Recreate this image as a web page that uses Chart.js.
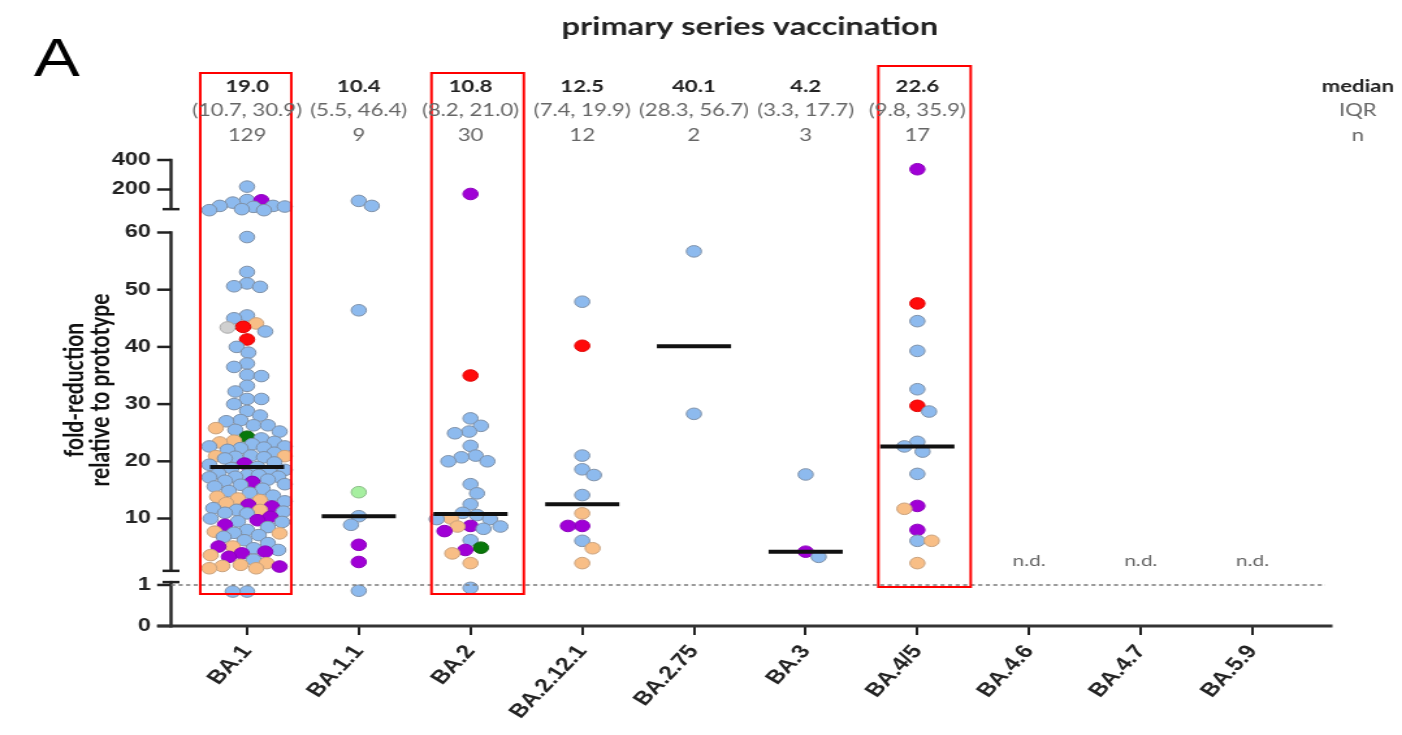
<!DOCTYPE html>
<html>
<head>
<meta charset="utf-8">
<title>primary series vaccination</title>
<script src="https://cdn.jsdelivr.net/npm/chart.js@4/dist/chart.umd.min.js"></script>
<style>
  html, body { margin: 0; padding: 0; background: #fff; overflow: hidden; }
  /* the figure is laid out on a narrower canvas and widened horizontally */
  #wrap { width: 1078px; height: 735px; transform: scaleX(1.3006); transform-origin: 0 0; }
</style>
</head>
<body>
<div id="wrap"><canvas id="chart" width="1078" height="735"></canvas></div>
<script>
// ---- categories and summary statistics ----
const CATEGORIES = ['BA.1', 'BA.1.1', 'BA.2', 'BA.2.12.1', 'BA.2.75', 'BA.3', 'BA.4/5', 'BA.4.6', 'BA.4.7', 'BA.5.9'];
const MEDIANS  = [19.0, 10.4, 10.8, 12.5, 40.1, 4.2, 22.6, null, null, null];
const IQR_LOW  = [10.7, 5.5, 8.2, 7.4, 28.3, 3.3, 9.8, null, null, null];
const IQR_HIGH = [30.9, 46.4, 21.0, 19.9, 56.7, 17.7, 35.9, null, null, null];
const COUNTS   = [129, 9, 30, 12, 2, 3, 17, null, null, null];

// ---- tick labels of the three axis segments ----
const TOP_TICKS = [200, 400];
const MID_TICKS = [10, 20, 30, 40, 50, 60];
const LOW_TICKS = [0, 1];

// ---- fold-reduction per sample, by variant and cohort colour ----
const BA1_BLUE = [214, 156, 147, 136, 136, 134, 133, 126, 123, 123,
  59.2, 53.1, 51.1, 50.6, 50.5, 45.5, 45.0, 42.7, 40.0, 39.0, 37.1, 36.5, 35.1, 34.9, 33.2, 32.2, 30.9,
  30.9, 30.0, 28.8, 28.0, 27.2, 27.0, 26.3, 26.3, 25.5, 25.2, 24.0, 23.4, 23.0, 22.6, 22.6, 22.4, 22.3, 22.0,
  21.5, 21.0, 20.8, 20.7, 20.5, 19.8, 19.4, 19.0,
  18.8, 18.5, 18.2, 17.9, 17.6, 17.6, 17.3, 17.3, 17.2, 16.8, 16.6, 16.0, 15.9, 15.6, 15.2, 14.8, 14.5, 14.0,
  13.0, 11.8, 11.5, 11.2, 11.0, 10.9,
  10.0, 9.5, 9.4, 8.5, 8.0, 7.5, 7.1, 6.8, 6.2, 5.7, 4.8, 4.5, 2.8, 0.84, 0.84];
const BA1_ORANGE = [44.1, 25.8, 23.6, 23.3, 20.9, 20.9, 13.8, 13.5, 13.2, 12.7, 11.5, 7.7, 7.4, 5.1, 3.6, 2.2, 1.9, 1.7, 1.3, 1.3];
const BA1_PURPLE = [155, 19.6, 16.4, 12.4, 12.1, 10.3, 9.7, 8.9, 5.1, 4.2, 3.9, 3.3, 1.6];
const BA1_RED = [43.5, 41.3];
const BA1_GREEN = [24.3];
const BA1_GRAY = [43.4];

const BA11_BLUE = [153, 136, 46.4, 10.4, 8.9, 0.86];
const BA11_PURPLE = [5.4, 2.4];
const BA11_LIGHTGREEN = [14.6];

const BA2_BLUE = [27.5, 26.2, 25.2, 24.9, 22.7, 21.0, 20.7, 20.0, 20.0, 16.0, 14.4, 12.5, 11.0, 10.6, 9.9, 9.9, 8.6, 8.2, 6.2, 0.93];
const BA2_ORANGE = [10.0, 8.6, 3.9, 2.2];
const BA2_PURPLE = [180, 8.7, 7.8, 4.5];
const BA2_RED = [35.0];
const BA2_GREEN = [4.9];

const BA2121_BLUE = [47.9, 21.0, 18.6, 17.6, 14.1, 6.1];
const BA2121_RED = [40.2];
const BA2121_ORANGE = [10.9, 4.8, 2.2];
const BA2121_PURPLE = [8.7, 8.7];

const BA275_BLUE = [56.7, 28.3];

const BA3_BLUE = [17.7, 3.3];
const BA3_PURPLE = [4.2];

const BA45_BLUE = [44.5, 39.3, 32.6, 28.7, 23.4, 22.6, 21.7, 17.8, 6.1];
const BA45_RED = [47.6, 29.7];
const BA45_PURPLE = [322, 12.2, 8.0];
const BA45_ORANGE = [11.7, 6.1, 2.2];

// samples of each variant, in category order (the last three were not determined)
const VARIANT_SAMPLES = [
  [[BA1_BLUE, 'blue'], [BA1_ORANGE, 'orange'], [BA1_PURPLE, 'purple'], [BA1_RED, 'red'], [BA1_GREEN, 'green'], [BA1_GRAY, 'gray']],
  [[BA11_BLUE, 'blue'], [BA11_PURPLE, 'purple'], [BA11_LIGHTGREEN, 'lightgreen']],
  [[BA2_BLUE, 'blue'], [BA2_ORANGE, 'orange'], [BA2_PURPLE, 'purple'], [BA2_RED, 'red'], [BA2_GREEN, 'green']],
  [[BA2121_BLUE, 'blue'], [BA2121_RED, 'red'], [BA2121_ORANGE, 'orange'], [BA2121_PURPLE, 'purple']],
  [[BA275_BLUE, 'blue']],
  [[BA3_BLUE, 'blue'], [BA3_PURPLE, 'purple']],
  [[BA45_BLUE, 'blue'], [BA45_RED, 'red'], [BA45_PURPLE, 'purple'], [BA45_ORANGE, 'orange']],
  [], [], []
];

// ---- styling ----
const GROUP_FILL = { blue: '#8DBAEE', orange: '#F8BE86', purple: '#A000D6', red: '#FF0A0A', green: '#08780A', lightgreen: '#A6EFA0', gray: '#D0D0D0' };
const GROUP_EDGE = { blue: '#7F91A8', orange: '#C9A27E', purple: '#8C00BC', red: '#E00000', green: '#066006', lightgreen: '#8DBE8A', gray: '#A9A9A9' };
const INK = '#222';
const SOFT = '#666';
const LATO = 'Lato, "Open Sans", sans-serif';
const ARIAL = '"Liberation Sans", Arial, sans-serif';
const DOT_RADIUS = 5.8;
const DOT_GAP = 10.4;     // minimum centre distance in the swarm
const SWARM_SPREAD = 29;  // max horizontal spread from the category centre, px

// axis segments: broken y axis made of three stacked scales
const TOP_RANGE = [95.4, 506];
const MID_RANGE = [-0.4, 62.01];
const LOW_RANGE = [0, 1.17];

function segmentOf(v) { return v > 60 ? 'yTop' : (v < 1 ? 'yLow' : 'yMid'); }

// build the point objects for each variant, ordered top to bottom
const VARIANT_POINTS = VARIANT_SAMPLES.map((groups, cat) => {
  const pts = [];
  groups.forEach(([vals, g]) => vals.forEach(v => pts.push({ x: cat, y: v, g })));
  pts.sort((a, b) => b.y - a.y);
  return pts;
});
const SEGMENT_DATA = { yTop: [], yMid: [], yLow: [] };
VARIANT_POINTS.forEach(pts => pts.forEach(p => SEGMENT_DATA[segmentOf(p.y)].push(p)));

const MEDIAN_DATA = MEDIANS.map((m, i) => (m == null ? null : { x: i, y: m })).filter(Boolean);

function pointDataset(axis) {
  return {
    type: 'scatter',
    data: SEGMENT_DATA[axis],
    yAxisID: axis,
    xAxisID: 'x',
    order: 1,
    showLine: false,
    pointStyle: 'circle',
    pointRadius: DOT_RADIUS,
    pointBorderWidth: 1,
    pointBackgroundColor: ctx => GROUP_FILL[ctx.raw.g],
    pointBorderColor: ctx => GROUP_EDGE[ctx.raw.g]
  };
}

function yScale(range, ticks, weight, stackWeight, type) {
  return {
    type: type || 'linear',
    position: 'left',
    stack: 'fold',
    stackWeight,
    weight,
    min: range[0],
    max: range[1],
    bounds: 'data',
    afterBuildTicks: s => { s.ticks = ticks.map(v => ({ value: v })); },
    afterFit: s => { s.width = 147; },
    grid: { display: false, drawTicks: false },
    border: { display: false },
    ticks: {
      autoSkip: false,
      padding: 31,
      color: INK,
      font: { family: ARIAL, size: 18, weight: 'bold' },
      callback: v => String(v)
    }
  };
}

// axis lines, breaks, dashed detection limit, annotations
const decor = {
  id: 'decor',
  beforeDatasetsDraw(chart) {
    const { ctx, chartArea, scales } = chart;
    const ax = chartArea.left - 15.5;
    const tickL = 10.7, cap = 6.5;
    ctx.save();
    ctx.strokeStyle = INK;
    ctx.lineCap = 'butt';
    // vertical segments
    ctx.lineWidth = 2.4;
    const segs = [
      ['yTop', 400, 126],
      ['yMid', 60, 0.85],
      ['yLow', 1.07, 0]
    ];
    segs.forEach(([id, a, b]) => {
      const s = scales[id];
      ctx.beginPath();
      ctx.moveTo(ax, s.getPixelForValue(a) - 1.2);
      ctx.lineTo(ax, s.getPixelForValue(b) + (id === 'yLow' ? 1.5 : 0));
      ctx.stroke();
    });
    // break caps
    ctx.lineWidth = 2.5;
    [['yTop', 126], ['yMid', 0.85], ['yLow', 1.07]].forEach(([id, v]) => {
      const y = scales[id].getPixelForValue(v);
      ctx.beginPath();
      ctx.moveTo(ax - cap, y);
      ctx.lineTo(ax + cap, y);
      ctx.stroke();
    });
    // tick marks
    [['yTop', TOP_TICKS], ['yMid', MID_TICKS], ['yLow', LOW_TICKS]].forEach(([id, ticks]) => {
      ticks.forEach(v => {
        const y = scales[id].getPixelForValue(v);
        ctx.beginPath();
        ctx.moveTo(ax - tickL, y);
        ctx.lineTo(ax, y);
        ctx.stroke();
      });
    });
    // x axis line
    const y0 = scales.yLow.getPixelForValue(0);
    ctx.lineWidth = 3;
    ctx.strokeStyle = '#333';
    ctx.beginPath();
    ctx.moveTo(ax - tickL, y0);
    ctx.lineTo(chartArea.right + 18.5, y0);
    ctx.stroke();
    ctx.restore();
  },
  afterDatasetsDraw(chart) {
    const { ctx, chartArea, scales } = chart;
    const ax = chartArea.left - 15.5;
    ctx.save();
    // dashed reference line at fold-reduction 1
    const y1 = scales.yLow.getPixelForValue(1);
    ctx.strokeStyle = '#7a7a7a';
    ctx.lineWidth = 1.4;
    ctx.setLineDash([3.2, 2.6]);
    ctx.beginPath();
    ctx.moveTo(ax, y1);
    ctx.lineTo(chartArea.right + 13, y1);
    ctx.stroke();
    ctx.setLineDash([]);
    // highlighted variants
    ctx.strokeStyle = '#FF0000';
    ctx.lineWidth = 2;
    const boxes = [[0, -36, 34, 73, 594], [2, -30, 41, 73, 594], [6, -30, 41, 66, 587]];
    boxes.forEach(([i, l, r, t, b]) => {
      const cx = scales.x.getPixelForValue(i);
      ctx.strokeRect(cx + l, t, r - l, b - t);
    });
    ctx.restore();
  },
  afterDraw(chart) {
    const { ctx, chartArea, scales } = chart;
    const xs = scales.x;
    ctx.save();
    // panel letter and title
    ctx.fillStyle = '#000';
    ctx.font = '53px ' + ARIAL;
    ctx.textAlign = 'left';
    ctx.textBaseline = 'alphabetic';
    ctx.fillText('A', 26, 76);
    ctx.textAlign = 'center';
    ctx.textBaseline = 'middle';
    ctx.fillStyle = INK;
    ctx.font = 'bold 25px ' + LATO;
    ctx.fillText('primary series vaccination', (chartArea.left + chartArea.right) / 2, 27);
    // summary rows
    CATEGORIES.forEach((c, i) => {
      const x = xs.getPixelForValue(i);
      if (MEDIANS[i] == null) {
        ctx.fillStyle = SOFT;
        ctx.font = '16px ' + LATO;
        ctx.fillText('n.d.', x, scales.yMid.getPixelForValue(2.6));
        return;
      }
      ctx.fillStyle = INK;
      ctx.font = 'bold 17px ' + LATO;
      ctx.fillText(MEDIANS[i].toFixed(1), x, 87);
      ctx.fillStyle = SOFT;
      ctx.font = '17px ' + LATO;
      ctx.fillText('(' + IQR_LOW[i].toFixed(1) + ', ' + IQR_HIGH[i].toFixed(1) + ')', x, 111);
      ctx.fillText(String(COUNTS[i]), x, 136);
    });
    const rx = 1044;
    ctx.fillStyle = INK;
    ctx.font = 'bold 17px ' + LATO;
    ctx.fillText('median', rx, 87);
    ctx.fillStyle = SOFT;
    ctx.font = '17px ' + LATO;
    ctx.fillText('IQR', rx, 111);
    ctx.fillText('n', rx, 136);
    // y axis title
    ctx.fillStyle = '#111';
    ctx.font = 'bold 21px ' + LATO;
    ctx.translate(0, 390);
    ctx.rotate(-Math.PI / 2);
    ctx.fillText('fold-reduction', 0, 57);
    ctx.fillText('relative to prototype', 0, 77);
    ctx.restore();
  }
};

const chart = new Chart(document.getElementById('chart'), {
  type: 'scatter',
  data: {
    datasets: [
      {
        label: 'median',
        data: MEDIAN_DATA,
        yAxisID: 'yMid',
        xAxisID: 'x',
        order: 0,
        showLine: false,
        pointStyle: 'line',
        pointRadius: 28.5,
        pointBorderWidth: 4,
        pointBorderColor: '#111',
        pointBackgroundColor: '#111'
      },
      pointDataset('yTop'),
      pointDataset('yMid'),
      pointDataset('yLow')
    ]
  },
  options: {
    responsive: false,
    devicePixelRatio: 1,
    animation: false,
    events: [],
    layout: { padding: { top: 150, right: 72, bottom: 0, left: 0 } },
    plugins: { legend: { display: false }, tooltip: { enabled: false }, title: { display: false } },
    scales: {
      x: {
        type: 'linear',
        min: -0.5,
        max: 9.5,
        bounds: 'data',
        afterBuildTicks: s => { s.ticks = CATEGORIES.map((_, i) => ({ value: i })); },
        afterFit: s => { s.height = 109; },
        grid: { display: true, drawOnChartArea: false, drawTicks: true, tickLength: 9, lineWidth: 2, color: INK },
        border: { display: false },
        ticks: {
          autoSkip: false,
          minRotation: 53,
          maxRotation: 53,
          padding: 6,
          color: INK,
          font: { family: ARIAL, size: 19, weight: 'bold' },
          callback: v => CATEGORIES[v] || ''
        }
      },
      yLow: yScale(LOW_RANGE, LOW_TICKS, 1, 48),
      yMid: yScale(MID_RANGE, MID_TICKS, 2, 357),
      yTop: yScale(TOP_RANGE, TOP_TICKS, 3, 71, 'logarithmic')
    }
  },
  plugins: [decor]
});

// spread the samples of each variant sideways so that the dots do not pile up
function arrangeSwarm(ch) {
  const xs = ch.scales.x;
  const unit = xs.getPixelForValue(1) - xs.getPixelForValue(0);
  VARIANT_POINTS.forEach((pts, cat) => {
    const placed = [];
    let side = 1;
    pts.forEach(p => {
      const py = ch.scales[segmentOf(p.y)].getPixelForValue(p.y);
      let best = 0, bestGap = -1;
      search:
      for (let k = 0; k <= SWARM_SPREAD; k++) {
        for (const s of (k ? [side, -side] : [1])) {
          const dx = k * s;
          let gap = Infinity;
          for (const q of placed) gap = Math.min(gap, Math.hypot(q.dx - dx, q.py - py));
          if (gap >= DOT_GAP) { best = dx; bestGap = gap; break search; }
          if (gap > bestGap) { bestGap = gap; best = dx; }
        }
      }
      if (best !== 0) side = -Math.sign(best);
      placed.push({ dx: best, py });
      p.x = cat + best / unit;
    });
  });
}
arrangeSwarm(chart);
chart.update('none');
</script>
</body>
</html>
